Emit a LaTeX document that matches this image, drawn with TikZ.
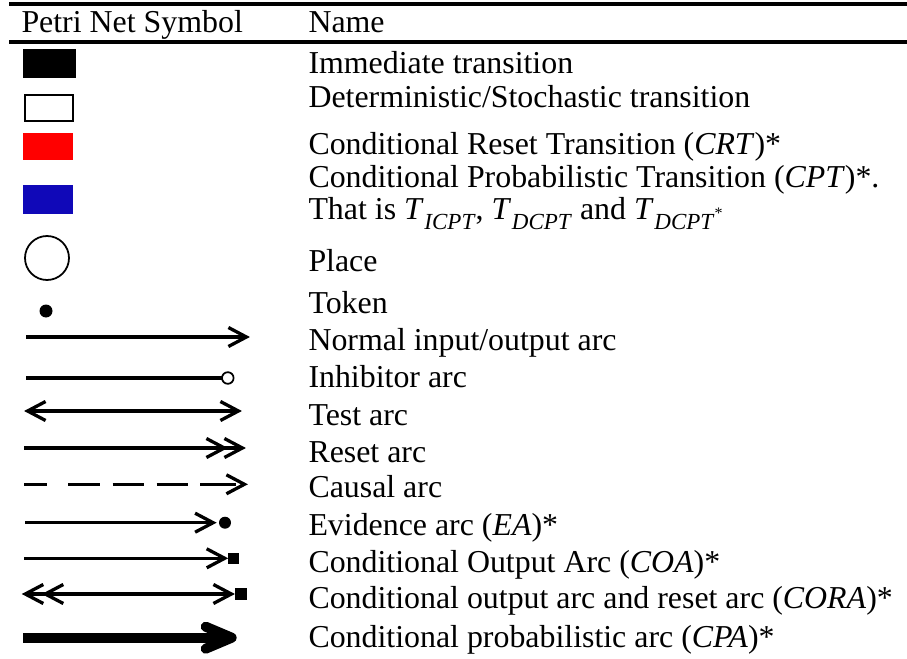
\documentclass[tikz,border=0pt]{standalone}
\usepackage{fontspec}
\setmainfont{Liberation Serif}
\definecolor{crtred}{RGB}{255,0,0}
\definecolor{cptblue}{RGB}{16,8,184}

% italic transition name with lowered subscript
\newcommand\tnamesub[1]{\textit{T}\kern0.3pt\raisebox{-0.3em}{\fontsize{9.2}{9.5}\selectfont\textit{#1}}}
\newcommand\tnamestar[1]{\textit{T}\kern0.3pt\raisebox{-0.3em}{\fontsize{9.2}{9.5}\selectfont\textit{#1}\raisebox{0.5em}{\fontsize{6.4}{6.4}\selectfont *}}}

\begin{document}
\begin{tikzpicture}[x=0.4pt,y=-0.4pt,
  lbl/.style={anchor=base west,inner sep=0pt,font=\fontsize{12.75}{14}\selectfont},
  tablerule/.style={line width=1.3pt},
  shaft/.style={line width=1.32pt},
  chev/.pic={\draw[line width=1.32pt,miter limit=10] (-18,-9.5) -- (0,0) -- (-18,9.5);},
  boldchev/.pic={\draw[line width=4pt,line cap=round,line join=round] (-26,-11) -- (0,0) -- (-26,11);}]
\useasboundingbox (0,0) rectangle (907,659);

% table rules
\coordinate (rt1) at (9,4);   \coordinate (rt2) at (907,4);
\coordinate (rh1) at (9,42);  \coordinate (rh2) at (907,42);
\draw[tablerule] (rt1) -- (rt2);
\draw[tablerule] (rh1) -- (rh2);

% header
\node[lbl] (hsym)  at (21,33) {Petri Net Symbol};
\node[lbl] (hname) at (308,33) {Name};

% names
\node[lbl] (t1)  at (308,74)  {Immediate transition};
\node[lbl] (t2)  at (308,108) {Deterministic/Stochastic transition};
\node[lbl] (t3)  at (308,155) {Conditional Reset Transition (\textit{CRT})*};
\node[lbl] (t4)  at (308,188) {Conditional Probabilistic Transition (\textit{CPT})*.};
\node[lbl] (t4b) at (308,220) {That is \tnamesub{ICPT}, \tnamesub{DCPT} and \tnamestar{DCPT}};
\node[lbl] (t5)  at (308,272) {Place};
\node[lbl] (t6)  at (308,314) {Token};
\node[lbl] (t7)  at (308,350) {Normal input/output arc};
\node[lbl] (t8)  at (308,387) {Inhibitor arc};
\node[lbl] (t9)  at (308,425) {Test arc};
\node[lbl] (t10) at (308,462) {Reset arc};
\node[lbl] (t11) at (308,497) {Causal arc};
\node[lbl] (t12) at (308,535) {Evidence arc (\textit{EA})*};
\node[lbl] (t13) at (308,572) {Conditional Output Arc (\textit{COA})*};
\node[lbl] (t14) at (308,608) {Conditional output arc and reset arc (\textit{CORA})*};
\node[lbl] (t15) at (308,647) {Conditional probabilistic arc (\textit{CPA})*};

% transitions
\fill[black] (23,49) rectangle (76,78);
\draw[line width=0.93pt] (25.2,95.2) rectangle (72.8,120.8);
\fill[crtred] (23,133) rectangle (73,160);
\fill[cptblue] (23,185) rectangle (73,214);

% place and token
\draw[line width=0.7pt] (47,258) circle[radius=22];
\fill (46,311) circle[radius=6.5];

% normal arc
\coordinate (na1) at (26,337); \coordinate (na2) at (246.4,337);
\draw[shaft] (na1) -- (na2);
\pic at (na2) {chev};

% inhibitor arc
\coordinate (ia1) at (26,378); \coordinate (ia2) at (227.8,378);
\draw[shaft] (ia1) -- ++(195.8,0);
\draw[line width=0.7pt] (ia2) circle[radius=5.8];

% test arc
\coordinate (ta1) at (27.6,411); \coordinate (ta2) at (238.4,411);
\draw[shaft] (ta1) -- (ta2);
\pic at (ta2) {chev};
\pic[rotate=180] at (ta1) {chev};

% reset arc
\coordinate (ra1) at (24,448); \coordinate (ra2) at (242.4,448);
\draw[shaft] (ra1) -- (ra2);
\pic at (ra2) {chev};
\pic at (224.4,448) {chev};

% causal arc
\coordinate (ca1) at (24,484.3); \coordinate (ca2) at (244.4,484.3);
\foreach \a/\b in {24/46.7,68.3/100,112.7/144,156.7/188.3,200/236}
  \draw[shaft] (\a,484.3) -- (\b,484.3);
\pic at (ca2) {chev};

% evidence arc
\coordinate (ea1) at (25,522.7); \coordinate (ea2) at (213.1,522.7);
\draw[shaft] (ea1) -- (ea2);
\pic at (ea2) {chev};
\fill (225,522.7) circle[radius=6];

% conditional output arc
\coordinate (oa1) at (24,558.3); \coordinate (oa2) at (224.7,558.3);
\draw[shaft] (oa1) -- (oa2);
\pic at (oa2) {chev};
\fill (228.3,552.7) rectangle (239.3,564);

% conditional output and reset arc
\coordinate (cr1) at (25.3,594); \coordinate (cr2) at (231.4,594);
\draw[shaft] (cr1) -- (cr2);
\pic[rotate=180] at (cr1) {chev};
\pic[rotate=180] at (45.3,594) {chev};
\pic at (cr2) {chev};
\fill (235,588) rectangle (247.3,600);

% conditional probabilistic arc
\coordinate (pa1) at (23.3,637.7); \coordinate (pa2) at (231.7,637.7);
\draw[line width=4pt] (pa1) -- (pa2);
\pic at (pa2) {boldchev};
\end{tikzpicture}
\end{document}
